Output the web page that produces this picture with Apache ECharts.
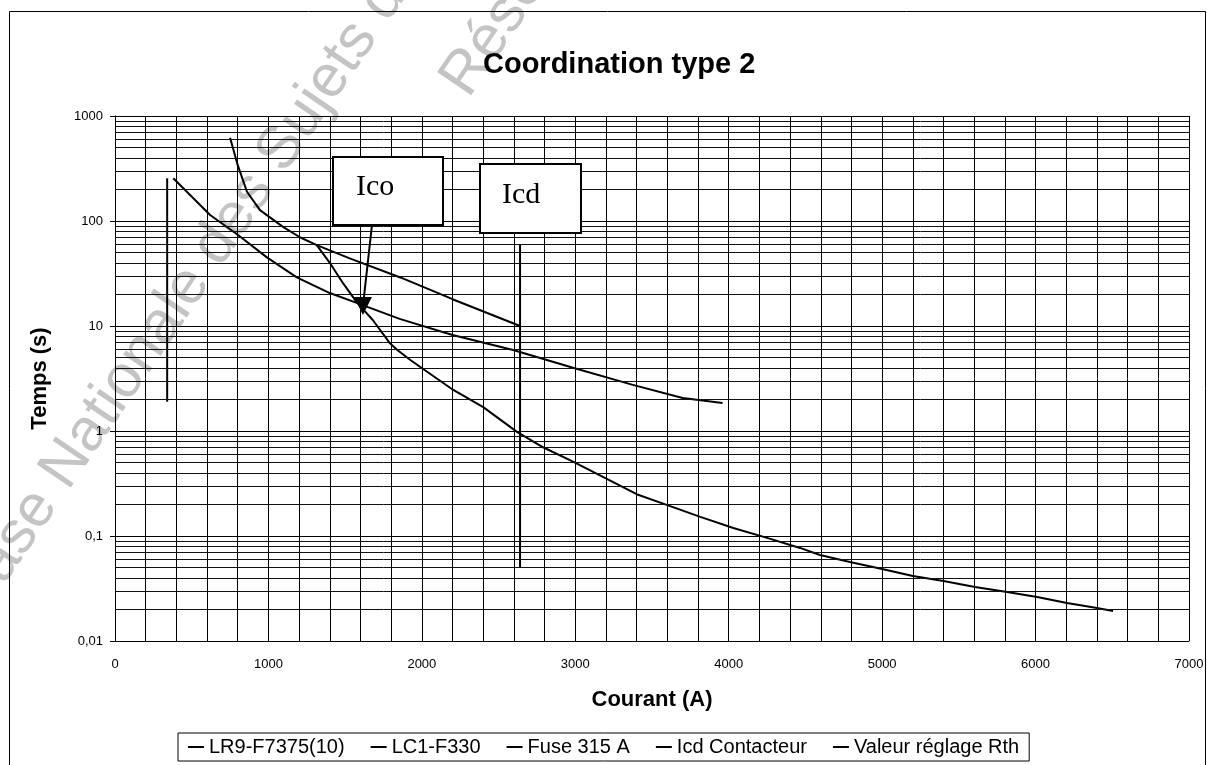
<!DOCTYPE html>
<html>
<head>
<meta charset="utf-8">
<script src="https://cdn.jsdelivr.net/npm/echarts@6/dist/echarts.min.js"></script>
<style>
html, body { margin: 0; padding: 0; background: #fff; }
#chart { width: 1207px; height: 765px; }
</style>
</head>
<body>
<div id="chart"></div>
<script>
// courbes : [courant A, temps s]
var lr9 = [[380,255],[620,114],[800,74],[990,45],[1185,29],[1400,20.6],[1575,16.6],[1855,11.7],[2200,8.2],[2595,5.9],[2985,4.0],[3375,2.75],[3700,2.06],[3960,1.85]];
var lc1 = [[750,620],[800,340],[860,190],[945,127],[1095,88],[1205,70],[1315,59],[1530,44],[1860,29],[2200,18],[2640,10]];
var fuse = [[1315,59],[1400,40],[1485,25.7],[1575,16.9],[1680,11.4],[1790,6.9],[1840,5.9],[1925,4.75],[1990,4.07],[2205,2.46],[2400,1.69],[2620,0.98],[2790,0.70],[2985,0.51],[3180,0.365],[3400,0.25],[3600,0.197],[3815,0.152],[4030,0.119],[4250,0.096],[4465,0.077],[4595,0.066],[4790,0.0565],[5000,0.0485],[5200,0.0416],[5400,0.0373],[5605,0.0327],[5815,0.0293],[6010,0.0262],[6205,0.023],[6400,0.0206],[6505,0.0193]];
var icd = [[2640,60],[2640,0.05]];
var rth = [[340,255],[340,1.9]];
var names = ['LR9-F7375(10)', 'LC1-F330', 'Fuse 315 A', 'Icd Contacteur', 'Valeur réglage Rth'];

// fleche "Ico" : depuis la boite vers le croisement
var icoArrow = [[1675, 92], [1616, 15.5]];

// graduations secondaires de l'axe log
var decades = [0.01, 0.1, 1, 10, 100];
var minorTicks = [];
decades.forEach(function (d) {
  for (var k = 2; k <= 9; k++) minorTicks.push(+(d * k).toPrecision(2));
});

var font = 'Liberation Sans';
var chart = echarts.init(document.getElementById('chart'));

function line(name, data, extra) {
  var s = {
    name: name,
    type: 'line',
    data: data,
    showSymbol: false,
    symbol: 'none',
    lineStyle: { color: '#000', width: 2 },
    itemStyle: { color: '#000' },
    animation: false
  };
  for (var k in extra) s[k] = extra[k];
  return s;
}

var wmStyle = 'rgba(165,165,165,0.65)';

var option = {
  animation: false,
  textStyle: { fontFamily: font, color: '#000' },
  title: {
    text: 'Coordination type 2',
    left: 478,
    top: 45,
    textStyle: { fontSize: 29, fontWeight: 'bold', color: '#000', fontFamily: font }
  },
  grid: { left: 115, right: 18, top: 116, bottom: 124 },
  legend: {
    data: names,
    left: 178,
    top: 733,
    padding: [4, 10],
    itemGap: 26,
    itemWidth: 16,
    itemHeight: 2,
    icon: 'rect',
    borderColor: '#000',
    borderWidth: 1,
    textStyle: { fontSize: 20, color: '#000', fontFamily: font }
  },
  xAxis: {
    type: 'value',
    min: 0,
    max: 7000,
    interval: 1000,
    name: 'Courant (A)',
    nameLocation: 'middle',
    nameGap: 48,
    nameTextStyle: { fontSize: 22, fontWeight: 'bold', color: '#000' },
    axisLine: { show: true, lineStyle: { color: '#000' } },
    axisTick: { show: false },
    axisLabel: {
      color: '#000',
      fontSize: 13,
      margin: 17,
      formatter: function (v) { return String(v); }
    },
    splitLine: { show: true, lineStyle: { color: '#000', width: 1 } },
    minorTick: { show: false, splitNumber: 5 },
    minorSplitLine: { show: true, lineStyle: { color: '#000', width: 1 } }
  },
  yAxis: {
    type: 'log',
    logBase: 10,
    min: 0.01,
    max: 1000,
    name: 'Temps (s)',
    nameLocation: 'middle',
    nameGap: 64,
    nameTextStyle: { fontSize: 22, fontWeight: 'bold', color: '#000' },
    axisLine: { show: true, lineStyle: { color: '#000' } },
    axisTick: { show: true, length: 5, lineStyle: { color: '#000' } },
    axisLabel: {
      color: '#000',
      fontSize: 13,
      margin: 12,
      formatter: function (v) {
        var s = v >= 1 ? String(Math.round(v)) : (+v.toPrecision(1)).toString();
        return s.replace('.', ',');
      }
    },
    splitLine: { show: true, lineStyle: { color: '#000', width: 1.2 } }
  },
  series: [
    line(names[0], lr9, {
      markLine: {
        silent: true,
        symbol: ['none', 'none'],
        label: { show: false },
        lineStyle: { color: '#111', width: 1, type: 'solid' },
        data: minorTicks.map(function (v) { return { yAxis: v }; })
      }
    }),
    line(names[1], lc1, {
      markLine: {
        silent: true,
        symbol: ['none', 'triangle'],
        symbolSize: 18,
        symbolRotate: 180,
        label: { show: false },
        lineStyle: { color: '#000', width: 2, type: 'solid' },
        itemStyle: { color: '#000' },
        data: [[{ coord: icoArrow[0] }, { coord: icoArrow[1] }]]
      }
    }),
    line(names[2], fuse),
    line(names[3], icd),
    line(names[4], rth)
  ],
  graphic: [
    {
      type: 'text', x: -57, y: 592, rotation: 0.972, z: -10, silent: true,
      style: { text: "Base Nationale des Sujets d'Examens de l'enseignement professionnel", font: '60px "Liberation Sans"', fill: wmStyle }
    },
    {
      type: 'text', x: 430, y: 73, rotation: 0.972, z: -10, silent: true,
      style: { text: 'Réseau Canopé', font: '60px "Liberation Sans"', fill: wmStyle }
    },
    {
      type: 'rect', z: 100, silent: true,
      shape: { x: 333, y: 157, width: 110, height: 68 },
      style: { fill: '#fff', stroke: '#000', lineWidth: 2 }
    },
    {
      type: 'text', x: 356, y: 172, z: 101, silent: true,
      style: { text: 'Ico', font: '30px "Liberation Serif"', fill: '#000' }
    },
    {
      type: 'rect', z: 100, silent: true,
      shape: { x: 480, y: 164, width: 101, height: 69 },
      style: { fill: '#fff', stroke: '#000', lineWidth: 2 }
    },
    {
      type: 'text', x: 502, y: 180, z: 101, silent: true,
      style: { text: 'Icd', font: '30px "Liberation Serif"', fill: '#000' }
    },
    {
      type: 'rect', z: 0, silent: true,
      shape: { x: 9.5, y: 11.5, width: 1196, height: 770 },
      style: { fill: 'none', stroke: '#000', lineWidth: 1 }
    }
  ]
};

chart.setOption(option);
</script>
</body>
</html>
